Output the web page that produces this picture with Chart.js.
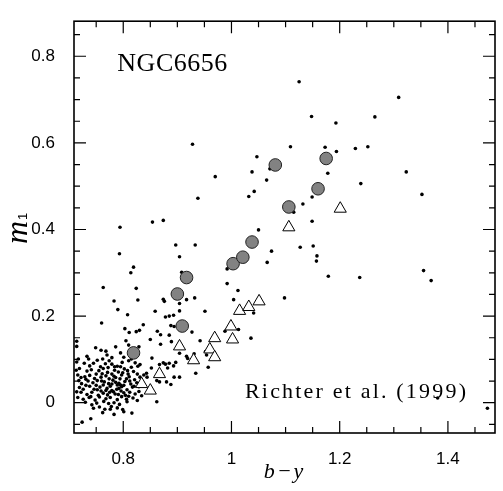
<!DOCTYPE html>
<html lang="en">
<head>
    <meta charset="UTF-8">
    <title>NGC6656 m1 vs b-y</title>
    <script src="https://cdn.jsdelivr.net/npm/chart.js"></script>
    <style>
        html, body { margin: 0; padding: 0; background: #fff; }
        #cmd { display: block; }
    </style>
</head>
<body>
    <canvas id="cmd" width="503" height="491"></canvas>
    <script>
        // field stars (small dots), [b-y, m1]
        const fieldStars = [
            [1.125,0.741],[1.309,0.705],[1.148,0.661],[1.193,0.646],[1.265,0.660],[1.109,0.591],[1.173,0.590],
            [1.194,0.580],[1.229,0.587],[1.252,0.591],[1.047,0.568],[1.038,0.533],[1.071,0.540],[1.178,0.530],
            [1.323,0.533],[1.065,0.514],[1.042,0.488],[1.032,0.476],[1.239,0.506],[1.352,0.481],[1.149,0.475],
            [1.132,0.459],[1.115,0.440],[1.149,0.419],[1.050,0.399],[1.074,0.350],[1.127,0.359],[1.151,0.362],
            [1.158,0.339],[1.157,0.327],[1.179,0.292],[1.237,0.289],[1.355,0.305],[1.369,0.282],[1.098,0.242],
            [1.041,0.207],[1.036,0.149],[1.473,-0.013],[1.381,0.011],[1.066,0.324],
            [0.928,0.597],[0.970,0.522],[0.938,0.472],[0.794,0.405],[0.854,0.417],[0.874,0.421],[0.793,0.344],
            [0.897,0.364],[0.933,0.364],[0.904,0.337],[0.992,0.309],[0.992,0.275],[1.012,0.259],[0.819,0.313],
            [0.814,0.300],[0.908,0.301],[0.763,0.266],[0.824,0.264],[0.783,0.235],[0.827,0.237],[0.874,0.239],
            [0.876,0.234],[0.917,0.238],[0.932,0.242],[1.004,0.238],[0.790,0.215],[0.859,0.211],[0.904,0.229],
            [0.904,0.212],[0.951,0.211],[0.808,0.203],[0.878,0.198],[0.885,0.200],[0.893,0.202],[0.760,0.184],
            [0.837,0.180],[0.888,0.178],[0.894,0.176],[0.803,0.171],[0.811,0.162],[0.824,0.164],[0.830,0.167],
            [0.863,0.165],[0.869,0.157],[0.885,0.156],[0.927,0.163],[0.942,0.143],[0.988,0.165],[1.013,0.169],
            [0.957,0.082],[0.934,0.068],
            [0.850,0.146],[0.869,0.135],[0.889,0.141],[0.829,0.129],[0.904,0.114],[0.917,0.107],[0.919,0.102],
            [0.931,0.113],[0.952,0.118],[0.954,0.110],[0.853,0.103],[0.831,0.088],[0.852,0.080],[0.867,0.088],
            [0.874,0.092],[0.878,0.089],[0.885,0.091],[0.893,0.085],[0.897,0.093],[0.882,0.080],[0.843,0.068],
            [0.838,0.064],[0.844,0.059],[0.862,0.051],[0.867,0.048],[0.880,0.048],[0.888,0.042],[0.894,0.059],
            [0.904,0.059],[0.834,0.016],[0.862,0.002],[0.829,0.037],
            [0.714,0.142],[0.714,0.130],[0.749,0.127],[0.759,0.121],[0.717,0.101],[0.736,0.101],[0.770,0.110],
            [0.724,-0.045],[0.740,-0.037],[0.816,-0.024],[0.776,-0.015]
        ];

        // the dense clump at the blue end
        const clumpStars = [
            [0.768,0.119],[0.786,0.129],[0.805,0.143],[0.810,0.133],[0.795,0.115],[0.801,0.105],[0.779,0.104],
            [0.774,0.097],[0.762,0.101],[0.752,0.098],[0.733,0.107],[0.714,0.094],[0.728,0.091],[0.738,0.085],
            [0.745,0.091],[0.758,0.083],[0.767,0.090],[0.779,0.089],[0.789,0.084],[0.798,0.093],[0.810,0.097],
            [0.815,0.101],[0.822,0.092],[0.827,0.084],
            [0.719,0.079],[0.733,0.073],[0.741,0.076],[0.755,0.074],[0.763,0.079],[0.771,0.070],[0.784,0.075],
            [0.791,0.071],[0.802,0.078],[0.808,0.074],[0.819,0.072],[0.826,0.066],
            [0.716,0.064],[0.729,0.060],[0.738,0.063],[0.750,0.066],[0.759,0.059],[0.768,0.062],[0.779,0.066],
            [0.786,0.058],[0.797,0.064],[0.811,0.060],[0.821,0.053],[0.831,0.059],
            [0.718,0.051],[0.723,0.044],[0.735,0.050],[0.744,0.046],[0.752,0.051],[0.765,0.048],[0.773,0.044],
            [0.781,0.052],[0.792,0.045],[0.803,0.049],[0.814,0.043],[0.820,0.038],
            [0.719,0.035],[0.726,0.031],[0.738,0.038],[0.746,0.031],[0.757,0.036],[0.770,0.033],[0.776,0.038],
            [0.788,0.031],[0.797,0.037],[0.807,0.030],[0.817,0.036],[0.829,0.026],
            [0.722,0.024],[0.733,0.019],[0.742,0.024],[0.754,0.017],[0.763,0.022],[0.771,0.018],[0.782,0.025],
            [0.791,0.019],[0.801,0.023],[0.810,0.015],[0.822,0.020],
            [0.726,0.008],[0.737,0.012],[0.748,0.006],[0.756,0.013],[0.768,0.009],[0.776,0.012],[0.789,0.007],
            [0.797,0.014],[0.806,0.008],[0.818,0.011],[0.826,0.005],
            [0.730,0.001],[0.742,-0.005],[0.751,-0.001],[0.764,0.003],[0.773,-0.002],[0.783,0.000],[0.793,-0.004],
            [0.807,0.002],
            [0.745,-0.013],[0.756,-0.010],[0.766,-0.015],[0.778,-0.009],[0.789,-0.012],[0.799,-0.016],
            [0.762,-0.023],[0.783,-0.027],[0.801,-0.021],
            [0.761,0.067],[0.774,0.055],[0.783,0.061],[0.794,0.055],[0.799,0.069],[0.806,0.055],[0.779,0.043],
            [0.786,0.047],[0.795,0.041],[0.801,0.040],[0.812,0.050],[0.768,0.028],[0.779,0.028],[0.785,0.020],
            [0.796,0.027],[0.804,0.017],[0.812,0.024],[0.759,0.027],[0.750,0.040],[0.763,0.041],[0.775,0.024],
            [0.792,0.033],[0.760,0.050],[0.789,0.041],[0.809,0.066],[0.772,0.081],[0.784,0.083],[0.747,0.056],
            [0.731,0.054],[0.740,0.014],[0.752,0.030],[0.815,0.082],[0.795,0.083],[0.825,0.046],[0.836,0.046],
            [0.731,0.040],[0.722,0.058],[0.713,0.075],[0.714,0.025],[0.716,0.012]
        ];

        // filled grey circles
        const greyCircles = [
            [0.819,0.115],[0.900,0.251],[0.909,0.177],[0.917,0.289],[1.003,0.321],[1.021,0.336],
            [1.038,0.371],[1.081,0.549],[1.106,0.452],[1.160,0.494],[1.175,0.564]
        ];

        // open triangles
        const openTriangles = [
            [0.834,0.043],[0.850,0.028],[0.867,0.066],[0.904,0.130],[0.930,0.098],[0.960,0.123],
            [0.969,0.149],[0.969,0.105],[0.999,0.176],[1.002,0.146],[1.015,0.212],[1.032,0.221],
            [1.051,0.234],[1.106,0.405],[1.201,0.448]
        ];

        const xTickValues = [0.75, 0.8, 0.85, 0.9, 0.95, 1, 1.05, 1.1, 1.15, 1.2, 1.25, 1.3, 1.35, 1.4, 1.45];
        const xTickLabels = ['', '0.8', '', '', '', '1', '', '', '', '1.2', '', '', '', '1.4', ''];
        const yTickValues = [-0.05, 0, 0.05, 0.1, 0.15, 0.2, 0.25, 0.3, 0.35, 0.4, 0.45, 0.5, 0.55, 0.6, 0.65, 0.7, 0.75, 0.8, 0.85];
        const yTickLabels = ['', '0', '', '', '', '0.2', '', '', '', '0.4', '', '', '', '0.6', '', '', '', '0.8', ''];

        const toPoints = arr => arr.map(p => ({ x: p[0], y: p[1] }));

        function labelFor(values, labels, v) {
            const i = values.findIndex(t => Math.abs(t - v) < 1e-6);
            return i >= 0 ? labels[i] : '';
        }

        // text fitted to a width by letter spacing
        function fittedText(ctx, text, x, y, font, width) {
            ctx.font = font;
            ctx.letterSpacing = '0px';
            const w = ctx.measureText(text).width;
            const sp = (width - w) / (text.length - 1);
            ctx.letterSpacing = sp.toFixed(2) + 'px';
            ctx.fillText(text, x, y);
            ctx.letterSpacing = '0px';
        }

        const frameTicks = {
            id: 'frameTicks',
            afterDatasetsDraw(chart) {
                const { ctx, chartArea: a, scales: { x, y } } = chart;
                ctx.save();
                ctx.strokeStyle = '#000';
                ctx.lineWidth = 1.6;
                ctx.strokeRect(a.left, a.top, a.right - a.left, a.bottom - a.top);

                ctx.lineWidth = 1.2;
                ctx.beginPath();
                xTickValues.forEach((v, i) => {
                    const px = x.getPixelForValue(v);
                    const len = xTickLabels[i] ? 12 : 6;
                    ctx.moveTo(px, a.bottom); ctx.lineTo(px, a.bottom - len);
                    ctx.moveTo(px, a.top); ctx.lineTo(px, a.top + len);
                });
                yTickValues.forEach((v, i) => {
                    const py = y.getPixelForValue(v);
                    const len = yTickLabels[i] ? 12 : 6;
                    ctx.moveTo(a.left, py); ctx.lineTo(a.left + len, py);
                    ctx.moveTo(a.right, py); ctx.lineTo(a.right - len, py);
                });
                ctx.stroke();

                // annotations
                ctx.fillStyle = '#000';
                ctx.textAlign = 'left';
                ctx.textBaseline = 'alphabetic';
                fittedText(ctx, 'NGC6656', x.getPixelForValue(0.789), y.getPixelForValue(0.766),
                    '26px "Liberation Serif"', 110);
                fittedText(ctx, 'Richter et al. (1999)', x.getPixelForValue(1.025), y.getPixelForValue(0.010),
                    '22px "Liberation Serif"', 221);

                // x axis title
                ctx.textAlign = 'center';
                ctx.font = 'italic 22px "Liberation Serif"';
                ctx.letterSpacing = '2px';
                ctx.fillText('b\u2212y', (a.left + a.right) / 2, 478);
                ctx.letterSpacing = '0px';

                // y axis title, m with subscript 1
                ctx.translate(27, (a.top + a.bottom) / 2 + 2);
                ctx.rotate(-Math.PI / 2);
                ctx.textAlign = 'left';
                ctx.font = 'italic 32px "Liberation Serif"';
                const mw = ctx.measureText('m').width;
                ctx.fillText('m', -15, 0);
                ctx.font = '13px "Liberation Sans"';
                ctx.fillText('1', -15 + mw + 1, 0);
                ctx.restore();
            }
        };

        const ctx = document.getElementById('cmd').getContext('2d');
        new Chart(ctx, {
            type: 'scatter',
            data: {
                datasets: [
                    {
                        label: 'grey',
                        data: toPoints(greyCircles),
                        pointStyle: 'circle',
                        pointRadius: 6.3,
                        backgroundColor: '#828282',
                        borderColor: '#222',
                        borderWidth: 1,
                        order: 1
                    },
                    {
                        label: 'triangles',
                        data: toPoints(openTriangles),
                        pointStyle: 'triangle',
                        pointRadius: 7,
                        backgroundColor: '#fff',
                        borderColor: '#000',
                        borderWidth: 1,
                        order: 2
                    },
                    {
                        label: 'field',
                        data: toPoints(fieldStars.concat(clumpStars)),
                        pointStyle: 'circle',
                        pointRadius: 1.8,
                        backgroundColor: '#000',
                        borderColor: '#000',
                        borderWidth: 0,
                        order: 3
                    }
                ]
            },
            options: {
                responsive: false,
                animation: false,
                layout: { padding: { top: 4, right: 1, left: 0, bottom: 0 } },
                plugins: { legend: { display: false }, tooltip: { enabled: false } },
                scales: {
                    x: {
                        type: 'linear',
                        min: 0.709,
                        max: 1.487,
                        afterBuildTicks: s => { s.ticks = xTickValues.map(v => ({ value: v })); },
                        afterFit: s => { s.height = 58; },
                        grid: { display: false },
                        border: { display: false },
                        ticks: {
                            autoSkip: false,
                            maxRotation: 0,
                            padding: 8,
                            color: '#000',
                            font: { family: 'Liberation Sans', size: 17 },
                            callback: v => labelFor(xTickValues, xTickLabels, v)
                        }
                    },
                    y: {
                        type: 'linear',
                        min: -0.07,
                        max: 0.881,
                        afterBuildTicks: s => { s.ticks = yTickValues.map(v => ({ value: v })); },
                        afterFit: s => { s.width = 74; },
                        grid: { display: false },
                        border: { display: false },
                        ticks: {
                            autoSkip: false,
                            padding: 11,
                            color: '#000',
                            font: { family: 'Liberation Sans', size: 17 },
                            callback: v => labelFor(yTickValues, yTickLabels, v)
                        }
                    }
                }
            },
            plugins: [frameTicks]
        });
    </script>
</body>
</html>
